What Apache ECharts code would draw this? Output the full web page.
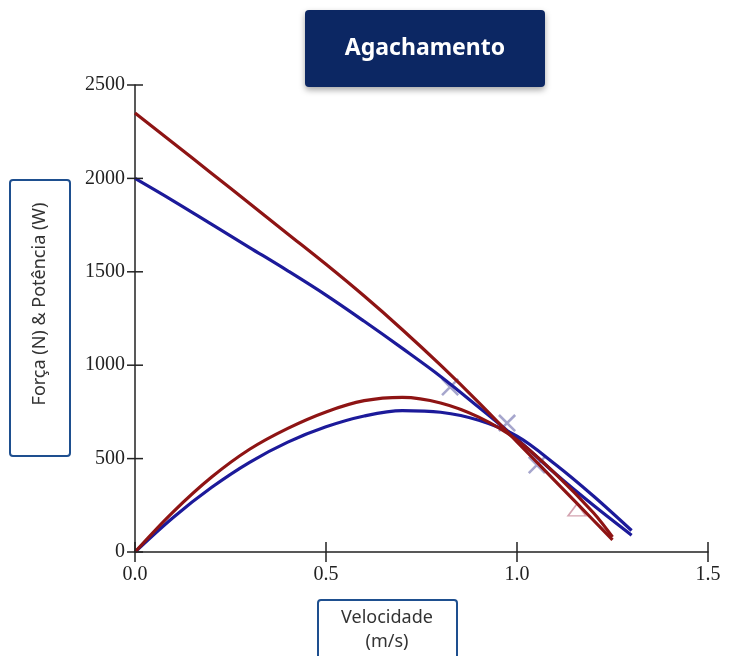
<!DOCTYPE html>
<html>
<head>
<meta charset="utf-8">
<script src="https://cdn.jsdelivr.net/npm/echarts@6/dist/echarts.min.js"></script>
<style>
  html, body { margin: 0; padding: 0; background: #ffffff; }
  #chart { width: 755px; height: 656px; }
</style>
</head>
<body>
<div id="chart"></div>
<script>
// valores
const redVel = [0, 0.1, 0.2, 0.3, 0.4, 0.5, 0.6, 0.7, 0.8, 0.9, 1.0, 1.1, 1.2, 1.25]
const redForce = [2350, 2190, 2028, 1866, 1703, 1540, 1370, 1190, 1000, 800, 590, 380, 170, 65]
const redPower = [0, 215, 400, 550, 662, 750, 810, 828, 798, 722, 600, 420, 210, 80]

const blueVel = [0, 0.1, 0.2, 0.3, 0.4, 0.5, 0.6, 0.7, 0.8, 0.9, 1.0, 1.1, 1.2, 1.3]
const blueForce = [2000, 1880, 1755, 1630, 1505, 1375, 1235, 1090, 940, 775, 605, 420, 250, 90]
const bluePower = [0, 185, 345, 480, 588, 670, 728, 757, 748, 705, 620, 470, 300, 115]

const crossPts = [[0.825, 883], [0.974, 690], [1.052, 466]]
const trianglePts = [[1.157, 225]]

const xTicks = [0, 0.5, 1.0, 1.5]
const yTicks = [0, 500, 1000, 1500, 2000, 2500]

const navy = '#0c2763'
const red = '#8e1414'
const blue = '#1c1a9a'

function pairs (xs, ys) {
  return xs.map((x, i) => [x, ys[i]])
}

const chart = echarts.init(document.getElementById('chart'))

const tickFont = { fontFamily: 'Liberation Serif', fontSize: 20, color: '#222' }

function curve (name, data, color) {
  return {
    name: name,
    type: 'line',
    smooth: 0.35,
    showSymbol: false,
    z: 3,
    lineStyle: { color: color, width: 3.2 },
    data: data
  }
}

// marcas de escala que atravessam o eixo (para fora e para dentro)
function crossTicks (data, horiz, half) {
  return {
    type: 'custom',
    silent: true,
    clip: false,
    z: 4,
    data: data,
    renderItem (params, api) {
      const p = api.coord([api.value(0), api.value(1)])
      const shape = horiz
        ? { x1: p[0] - half, y1: p[1], x2: p[0] + half, y2: p[1] }
        : { x1: p[0], y1: p[1] - half, x2: p[0], y2: p[1] + half }
      return { type: 'line', shape: shape, style: { stroke: '#222', lineWidth: 1.5 } }
    }
  }
}

const option = {
  animation: false,
  grid: { left: 135, right: 47, top: 85, bottom: 104 },
  xAxis: {
    type: 'value',
    min: xTicks[0],
    max: xTicks[xTicks.length - 1],
    interval: 0.5,
    splitLine: { show: false },
    axisLine: { onZero: false, lineStyle: { color: '#222', width: 1.5 } },
    axisTick: { show: false },
    axisLabel: Object.assign({ margin: 13, formatter: v => v.toFixed(1) }, tickFont)
  },
  yAxis: {
    type: 'value',
    min: yTicks[0],
    max: yTicks[yTicks.length - 1],
    interval: 500,
    splitLine: { show: false },
    axisLine: { show: true, onZero: false, lineStyle: { color: '#222', width: 1.5 } },
    axisTick: { show: false },
    axisLabel: Object.assign({ margin: 10, formatter: v => String(v) }, tickFont)
  },
  series: [
    {
      name: 'marcas',
      type: 'scatter',
      z: 2,
      symbol: 'path://M0,1L1,0L10,9L9,10ZM9,0L10,1L1,10L0,9Z',
      symbolSize: 18,
      itemStyle: { color: '#9c9cc8', opacity: 0.9 },
      data: crossPts
    },
    {
      name: 'triangulo',
      type: 'scatter',
      z: 2,
      symbol: 'triangle',
      symbolSize: [18, 12],
      itemStyle: { color: 'rgba(0,0,0,0)', borderColor: '#c88c9c', borderWidth: 1.5 },
      data: trianglePts
    },
    curve('Força B', pairs(blueVel, blueForce), blue),
    curve('Potência B', pairs(blueVel, bluePower), blue),
    curve('Força A', pairs(redVel, redForce), red),
    curve('Potência A', pairs(redVel, redPower), red),
    crossTicks(yTicks.map(v => [0, v]), true, 8),
    crossTicks(xTicks.map(v => [v, 0]), false, 10)
  ],
  graphic: [
    {
      type: 'rect',
      shape: { x: 305, y: 10, width: 240, height: 77, r: 4 },
      style: { fill: navy, shadowBlur: 6, shadowOffsetY: 3, shadowColor: 'rgba(0,0,0,0.35)' }
    },
    {
      type: 'text',
      x: 425,
      y: 48,
      style: {
        text: 'Agachamento',
        fill: '#ffffff',
        font: 'bold 23px "Noto Sans"',
        align: 'center',
        verticalAlign: 'middle'
      }
    },
    {
      type: 'rect',
      shape: { x: 10, y: 180, width: 60, height: 276, r: 3 },
      style: { fill: '#ffffff', stroke: '#1e4f8f', lineWidth: 2 }
    },
    {
      type: 'text',
      x: 40,
      y: 304,
      rotation: Math.PI / 2,
      style: {
        text: 'Força (N) & Potência (W)',
        fill: '#333',
        font: '18px "Noto Sans"',
        align: 'center',
        verticalAlign: 'middle'
      }
    },
    {
      type: 'rect',
      shape: { x: 318, y: 600, width: 139, height: 70, r: 3 },
      style: { fill: '#ffffff', stroke: '#1e4f8f', lineWidth: 2 }
    },
    {
      type: 'text',
      x: 387,
      y: 630,
      style: {
        text: 'Velocidade\n(m/s)',
        fill: '#333',
        font: '18px "Noto Sans"',
        lineHeight: 24,
        align: 'center',
        verticalAlign: 'middle'
      }
    }
  ]
}

chart.setOption(option)
</script>
</body>
</html>
